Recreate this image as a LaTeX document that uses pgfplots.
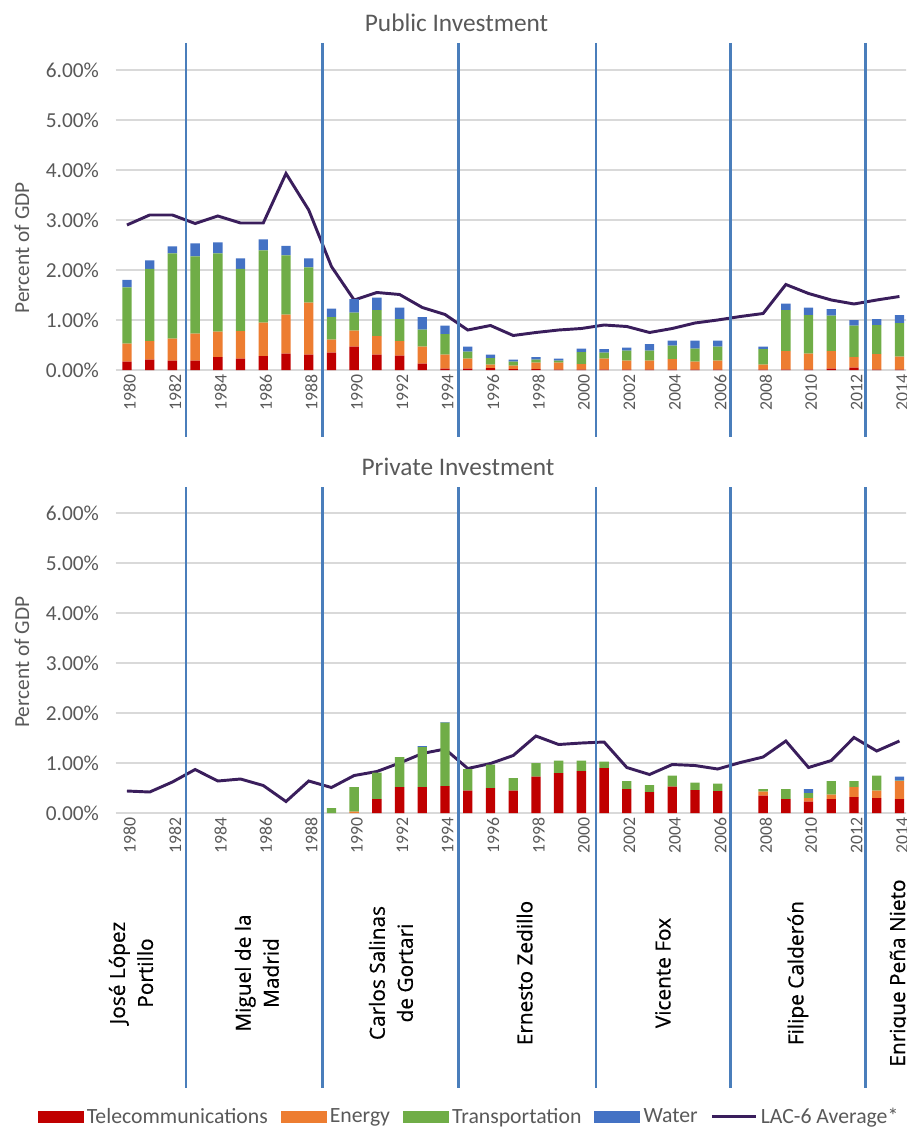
\documentclass[border=0pt]{standalone}
\usepackage{fontspec}
\setmainfont{Carlito}
\newfontfamily\osans{Open Sans}[FakeBold=0.6]
\usepackage{pgfplots}
\usepackage{pgfplotstable}
\pgfplotsset{compat=1.18}

\definecolor{tel}{HTML}{C00000}
\definecolor{ene}{HTML}{ED7D31}
\definecolor{tra}{HTML}{70AD47}
\definecolor{wat}{HTML}{4472C4}
\definecolor{lac}{HTML}{3A1E5C}
\definecolor{sepc}{HTML}{4A7EBB}
\definecolor{grd}{HTML}{D9D9D9}
\definecolor{tck}{HTML}{595959}

\pgfplotstableread{
year tel ene tra wat lac
1980 0.17 0.36 1.12 0.15 2.90
1981 0.21 0.37 1.44 0.17 3.10
1982 0.19 0.44 1.70 0.14 3.10
1983 0.19 0.54 1.54 0.26 2.93
1984 0.26 0.51 1.56 0.22 3.08
1985 0.23 0.55 1.24 0.21 2.94
1986 0.28 0.67 1.44 0.22 2.94
1987 0.33 0.78 1.18 0.19 3.93
1988 0.31 1.04 0.70 0.18 3.20
1989 0.35 0.26 0.45 0.17 2.07
1990 0.47 0.32 0.36 0.27 1.40
1991 0.31 0.37 0.52 0.25 1.55
1992 0.29 0.29 0.44 0.23 1.51
1993 0.13 0.34 0.34 0.25 1.25
1994 0.03 0.28 0.41 0.17 1.11
1995 0.03 0.20 0.14 0.10 0.80
1996 0.04 0.07 0.13 0.07 0.89
1997 0.02 0.07 0.08 0.04 0.69
1998 0.02 0.13 0.06 0.05 0.75
1999 0.01 0.14 0.04 0.04 0.80
2000 0.01 0.11 0.24 0.07 0.83
2001 0.01 0.22 0.12 0.07 0.90
2002 0.01 0.18 0.20 0.06 0.87
2003 0.01 0.18 0.20 0.13 0.75
2004 0.01 0.21 0.27 0.10 0.83
2005 0.01 0.16 0.26 0.16 0.94
2006 0.01 0.18 0.28 0.12 1.00
2007 0 0 0 0 1.07
2008 0.01 0.10 0.31 0.05 1.13
2009 0.01 0.37 0.82 0.13 1.71
2010 0.01 0.32 0.77 0.15 1.53
2011 0.03 0.35 0.71 0.13 1.40
2012 0.05 0.21 0.63 0.11 1.32
2013 0.01 0.31 0.58 0.12 1.40
2014 0.01 0.26 0.67 0.16 1.47
}\pubdata

\pgfplotstableread{
year tel ene tra wat lac
1980 0 0 0 0 0.44
1981 0 0 0 0 0.42
1982 0 0 0 0 0.62
1983 0 0 0 0 0.87
1984 0 0 0 0 0.64
1985 0 0 0 0 0.68
1986 0 0 0 0 0.55
1987 0 0 0 0 0.23
1988 0 0 0 0 0.64
1989 0 0 0.10 0 0.51
1990 0 0.03 0.49 0 0.75
1991 0.28 0 0.53 0 0.83
1992 0.52 0 0.60 0 1.00
1993 0.52 0 0.80 0.02 1.19
1994 0.54 0 1.27 0.01 1.28
1995 0.45 0 0.43 0 0.89
1996 0.50 0 0.47 0 0.99
1997 0.45 0 0.25 0 1.15
1998 0.73 0 0.27 0 1.54
1999 0.80 0 0.25 0 1.37
2000 0.84 0 0.21 0 1.40
2001 0.90 0 0.13 0 1.42
2002 0.48 0 0.16 0 0.91
2003 0.42 0 0.14 0 0.77
2004 0.53 0 0.22 0 0.97
2005 0.46 0 0.15 0 0.95
2006 0.44 0 0.15 0 0.88
2007 0 0 0 0 1.01
2008 0.35 0.08 0.05 0 1.12
2009 0.28 0 0.20 0 1.44
2010 0.23 0.07 0.10 0.08 0.91
2011 0.28 0.09 0.27 0 1.05
2012 0.32 0.20 0.12 0 1.51
2013 0.30 0.15 0.30 0 1.24
2014 0.28 0.36 0.01 0.08 1.44
}\privdata

\tikzset{pname/.style={rotate=90, align=center, text=black, font=\osans\fontsize{15.6}{21}\selectfont}}

\pgfplotsset{
  invstyle/.style={
    scale only axis, width=596.4pt, height=225pt,
    xmin=1979.5, xmax=2014.5, ymin=0, ymax=6,
    ybar stacked, bar width=7pt,
    axis line style={draw=none}, major tick length=0pt,
    ymajorgrids, grid style={grd, line width=1.2pt},
    ytick={0,1,2,3,4,5,6},
    yticklabels={0.00\%,1.00\%,2.00\%,3.00\%,4.00\%,5.00\%,6.00\%},
    xtick={1980,1982,...,2014},
    xticklabels={1980,1982,1984,1986,1988,1990,1992,1994,1996,1998,2000,2002,2004,2006,2008,2010,2012,2014},
    xticklabel style={rotate=90, anchor=east, font=\fontsize{13.3}{14}\selectfont, text=tck, yshift=-2pt},
    yticklabel style={anchor=east, font=\fontsize{16}{18}\selectfont, text=tck, xshift=-9pt},
    ylabel={Percent of GDP},
    ylabel style={font=\fontsize{16}{18}\selectfont, text=tck, rotate=0, anchor=center},
    clip=false,
  },
  barleg/.style={area legend, legend image code/.code={\path[##1] (0pt,-4.4pt) rectangle (34.5pt,4.4pt);}},
  lineleg/.style={legend image code/.code={\draw[##1] (0pt,0pt) -- (33pt,0pt);}},
}

\begin{document}
\begin{tikzpicture}
\useasboundingbox (0,0) rectangle (679.5pt,-847.5pt);
\clip (0,0) rectangle (679.5pt,-847.5pt);

\node[font=\fontsize{19}{22}\selectfont, text=tck] at (342.4pt,-17.25pt) {Public Investment};
\node[font=\fontsize{19}{22}\selectfont, text=tck] at (343.5pt,-350.25pt) {Private Investment};

\begin{axis}[invstyle, at={(86.7pt,-277.5pt)}, anchor=south west,
  ylabel style={at={(axis description cs:-0.1177,0.407)}}]
  \pgfplotsinvokeforeach{1982.6,1988.6,1994.6,2000.65,2006.55,2012.5}{
    \draw[sepc, line width=2pt] (axis cs:#1,6.54) -- (axis cs:#1,-1.34);
  }
  \addplot[fill=tel, draw=none] table[x=year,y=tel]{\pubdata};
  \addplot[fill=ene, draw=none] table[x=year,y=ene]{\pubdata};
  \addplot[fill=tra, draw=none] table[x=year,y=tra]{\pubdata};
  \addplot[fill=wat, draw=none] table[x=year,y=wat]{\pubdata};
  \addplot[lac, line width=2.2pt, sharp plot, stack plots=false, mark=none] table[x=year,y=lac]{\pubdata};
\end{axis}

\begin{axis}[invstyle, at={(86.7pt,-609.75pt)}, anchor=south west,
  ylabel style={at={(axis description cs:-0.1177,0.503)}},
  legend columns=5, legend cell align=left,
  legend style={at={(axis description cs:0.9937,-1.013)}, anchor=east, draw=none, fill=none,
    font=\fontsize{16.3}{18}\selectfont, text=tck, nodes={inner sep=2.4pt},
    /tikz/every even column/.append style={column sep=7.25pt}}]
  \pgfplotsinvokeforeach{1982.6,1988.6,1994.6,2000.65,2006.55,2012.5}{
    \draw[sepc, line width=2pt] (axis cs:#1,6.52) -- (axis cs:#1,-5.5);
  }
  \addplot[fill=tel, draw=none, barleg] table[x=year,y=tel]{\privdata};
  \addlegendentry{Telecommunications}
  \addplot[fill=ene, draw=none, barleg] table[x=year,y=ene]{\privdata};
  \addlegendentry{Energy}
  \addplot[fill=tra, draw=none, barleg] table[x=year,y=tra]{\privdata};
  \addlegendentry{Transportation}
  \addplot[fill=wat, draw=none, barleg] table[x=year,y=wat]{\privdata};
  \addlegendentry{Water}
  \addplot[lac, line width=2.2pt, sharp plot, stack plots=false, mark=none, lineleg] table[x=year,y=lac]{\privdata};
  \addlegendentry{LAC-6 Average*}

  \node[pname] at (axis cs:1980.18,-3.2) {José López\\Portillo};
  \node[pname] at (axis cs:1985.72,-3.2) {Miguel de la\\Madrid};
  \node[pname] at (axis cs:1991.62,-3.2) {Carlos Salinas\\de Gortari};
  \node[pname] at (axis cs:1997.50,-3.2) {Ernesto Zedillo};
  \node[pname] at (axis cs:2003.59,-3.2) {Vicente Fox};
  \node[pname] at (axis cs:2009.53,-3.2) {Filipe Calderón};
  \node[pname] at (axis cs:2014.02,-3.2) {Enrique Peña Nieto};
\end{axis}
\end{tikzpicture}
\end{document}
